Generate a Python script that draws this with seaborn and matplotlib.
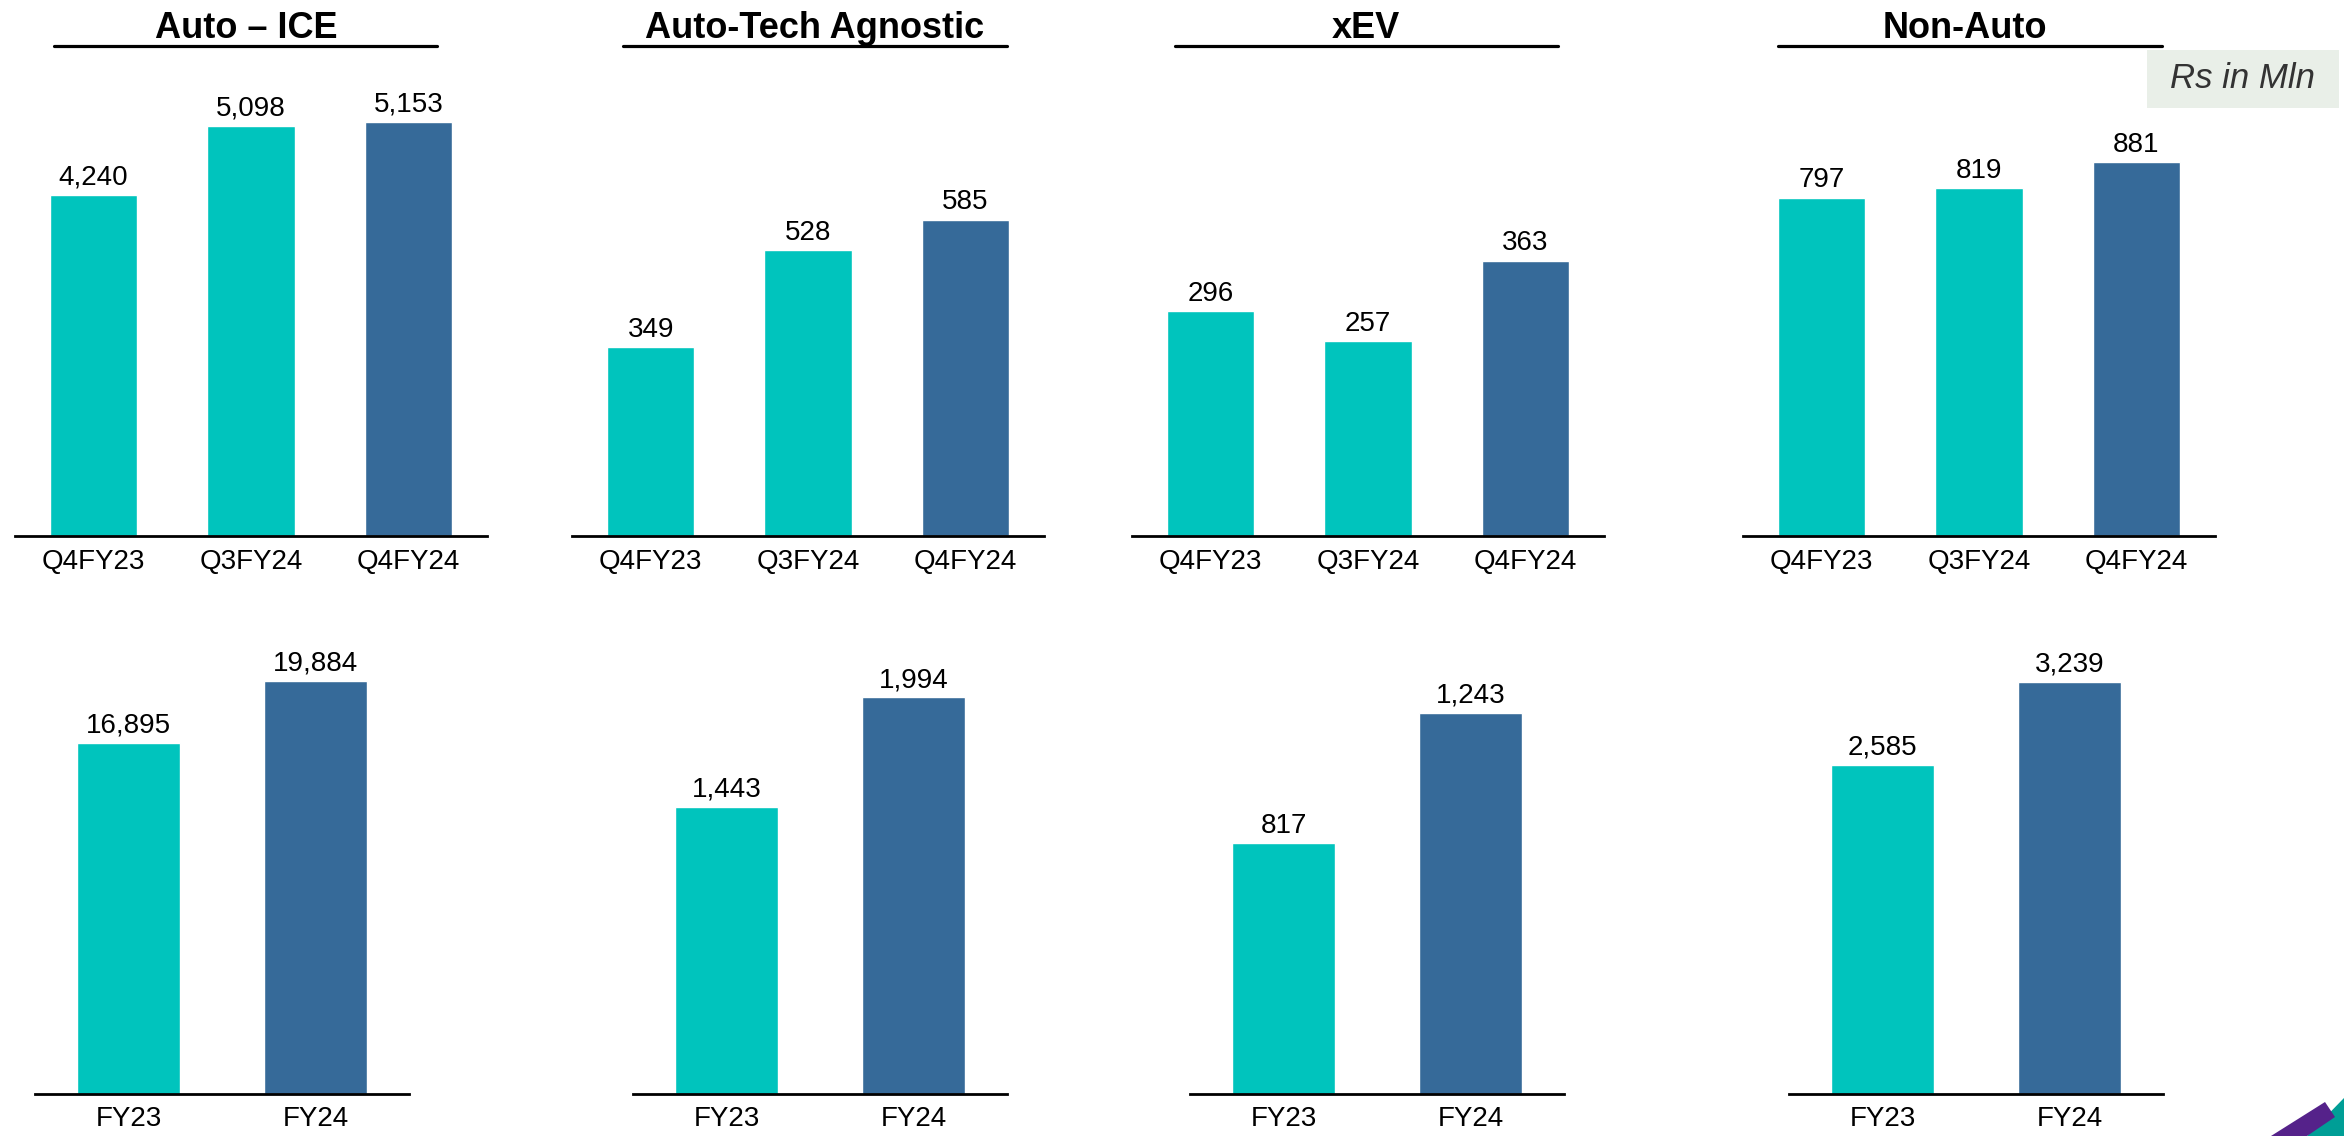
import matplotlib
matplotlib.use("Agg")
import matplotlib.pyplot as plt
from matplotlib.lines import Line2D
from matplotlib.patches import Rectangle, Polygon
import pandas as pd
import seaborn as sns

# ---- data (Rs in Mln) ----
segments = ["Auto – ICE", "Auto-Tech Agnostic", "xEV", "Non-Auto"]
quarters = ["Q4FY23", "Q3FY24", "Q4FY24"]
years = ["FY23", "FY24"]

ice_q = [4240, 5098, 5153]
tech_q = [349, 528, 585]
xev_q = [296, 257, 363]
nonauto_q = [797, 819, 881]

ice_y = [16895, 19884]
tech_y = [1443, 1994]
xev_y = [817, 1243]
nonauto_y = [2585, 3239]

unit_note = "Rs in Mln"

# ---- style ----
TEAL = "#00C4BD"
BLUE = "#366A99"
q_colors = [TEAL, TEAL, BLUE]
y_colors = [TEAL, BLUE]

sns.set_theme(style="white")
plt.rcParams["font.family"] = ["Liberation Sans", "DejaVu Sans"]

W, H = 2344, 1136
fig = plt.figure(figsize=(W / 100, H / 100), dpi=100)


def px_box(left, top, width, height):
    return [left / W, 1 - (top + height) / H, width / W, height / H]


def draw(ax, cats, vals, colors, ymax):
    df = pd.DataFrame({"cat": cats, "val": vals})
    sns.barplot(data=df, x="cat", y="val", hue="cat",
                palette=dict(zip(cats, colors)), width=0.555,
                saturation=1, legend=False, ax=ax)
    for c in ax.containers:
        ax.bar_label(c, labels=[f"{v:,.0f}" for v in c.datavalues],
                     padding=3, fontsize=20, color="black")
    ax.set_ylim(0, ymax)
    ax.set_xlim(-0.5, len(cats) - 0.5)
    ax.set_xlabel("")
    ax.set_ylabel("")
    ax.set_yticks([])
    sns.despine(ax=ax, left=True)
    ax.spines["bottom"].set_color("black")
    ax.spines["bottom"].set_linewidth(2)
    ax.tick_params(axis="x", length=0, pad=9, labelsize=20, colors="black")
    ax.set_facecolor("none")


# quarterly row
top_lefts = [15, 572, 1132, 1743]
top_ymax = [5672, 843, 601, 1074]
for left, vals, ymax in zip(top_lefts, [ice_q, tech_q, xev_q, nonauto_q], top_ymax):
    ax = fig.add_axes(px_box(left, 80, 472, 456))
    draw(ax, quarters, vals, q_colors, ymax)

# full-year row
bot_lefts = [35, 633, 1190, 1789]
bot_ymax = [22821, 2382, 1545, 3726]
for left, vals, ymax in zip(bot_lefts, [ice_y, tech_y, xev_y, nonauto_y], bot_ymax):
    ax = fig.add_axes(px_box(left, 620, 374, 474))
    draw(ax, years, vals, y_colors, ymax)

# segment headers with underline
title_cx = [246, 815, 1366, 1965]
underline = [(54, 437), (623, 1007), (1175, 1558), (1778, 2162)]
for name, cx, (x0, x1) in zip(segments, title_cx, underline):
    fig.text(cx / W, 1 - 38 / H, name, ha="center", va="baseline",
             fontsize=26, fontweight="bold", color="black")
    fig.add_artist(Line2D([x0 / W, x1 / W], [1 - 46 / H, 1 - 46 / H],
                          transform=fig.transFigure, color="black", lw=2.3))

# unit box
fig.add_artist(Rectangle((2147 / W, 1 - 108 / H), 192 / W, 58 / H,
                         transform=fig.transFigure, facecolor="#E9EFE8",
                         edgecolor="none"))
fig.text(2243 / W, 1 - 79 / H, unit_note, ha="center", va="center",
         fontsize=25, style="italic", color="#333333")

# corner logo
fig.add_artist(Polygon([(2307 / W, 0), (2344 / W, 38 / H), (2344 / W, 0)],
                       closed=True, transform=fig.transFigure,
                       facecolor="#009E96", edgecolor="none"))
fig.add_artist(Polygon([(2271 / W, 0), (2325 / W, 34 / H), (2335 / W, 19 / H), (2307 / W, 0)],
                       closed=True, transform=fig.transFigure,
                       facecolor="#55228A", edgecolor="none"))

fig.savefig("out.png", dpi=100, facecolor="white")
